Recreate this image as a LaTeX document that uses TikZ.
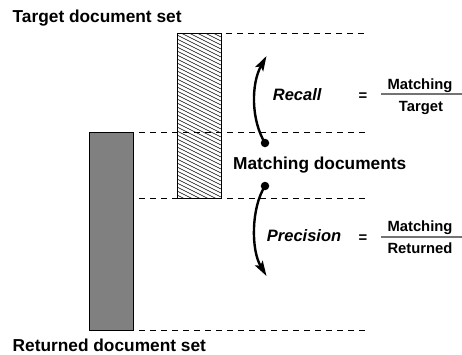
\documentclass[tikz,border=0pt]{standalone}
\usepackage{fontspec}
\setmainfont{Liberation Sans}
\usetikzlibrary{arrows.meta}
\begin{document}
\begin{tikzpicture}[x=1pt,y=-1pt,
  title/.style={font=\fontsize{17.3}{20}\selectfont\bfseries, anchor=base west, inner sep=0},
  measure/.style={font=\fontsize{16.5}{20}\selectfont\bfseries\itshape, anchor=base west, inner sep=0},
  fractxt/.style={font=\fontsize{14.8}{17}\selectfont\bfseries, anchor=base, inner sep=0},
  eqsign/.style={font=\fontsize{14.8}{17}\selectfont\bfseries, inner sep=0},
  guide/.style={line width=0.9pt, dash pattern=on 6pt off 5pt},
  setbox/.style={draw, line width=1pt, anchor=north west, inner sep=0},
  curvedarrow/.style={line width=2.4pt, -{Stealth[length=15pt,width=9pt,inset=3pt]}},
  dotmark/.style={circle, fill, inner sep=0, minimum size=8.5pt},
  fracline/.style={line width=1.6pt, draw=black!55}
]
\useasboundingbox (0,0) rectangle (462,354);

% titles
\node[title] (ttl) at (12.5,22.7) {Target document set};
\node[title] (rtl) at (12.5,351) {Returned document set};

% returned set
\node[setbox, fill=black!50, minimum width=44pt, minimum height=198pt] (ret) at (89,132) {};
% target set (hatched)
\begin{scope}
  \clip (177,33) rectangle (221,198);
  \foreach \k in {0,...,48} {
    \draw[line width=0.5pt] (177,{33-22+4*\k}) -- ++(44,22);
  }
\end{scope}
\node[setbox, minimum width=44pt, minimum height=165pt] (tgt) at (177,33) {};

% guide lines
\coordinate (g1a) at (226,33);  \coordinate (g1b) at (366,33);
\coordinate (g2a) at (139,132); \coordinate (g2b) at (366,132);
\coordinate (g3a) at (139,198); \coordinate (g3b) at (366,198);
\coordinate (g4a) at (139,330); \coordinate (g4b) at (366,330);
\draw[guide] (g1a) -- (g1b);
\draw[guide] (g2a) -- (g2b);
\draw[guide] (g3a) -- (g3b);
\draw[guide] (g4a) -- (g4b);

% matching label
\node[title] (match) at (233,169.3) {Matching documents};

% arrows
\node[dotmark] (rdot) at (265,143) {};
\coordinate (rtip) at (266.5,56);
\draw[curvedarrow] (rdot.center) .. controls (251,120) and (251,84) .. (rtip);
\node[dotmark] (pdot) at (265,186) {};
\coordinate (ptip) at (266.5,276);
\draw[curvedarrow] (pdot.center) .. controls (251,208) and (251,250) .. (ptip);

% recall
\node[measure] (rec) at (272.7,100.7) {Recall};
\node[eqsign] (req) at (363,97) {=};
\coordinate (rfl) at (381,93.7); \coordinate (rfr) at (462,93.7);
\draw[fracline] (rfl) -- (rfr);
\node[fractxt] (rnum) at (420,89.3) {Matching};
\node[fractxt] (rden) at (421,111.7) {Target};

% precision
\node[measure] (pre) at (266.7,241.7) {Precision};
\node[eqsign] (peq) at (363,238.5) {=};
\coordinate (pfl) at (381,236.7); \coordinate (pfr) at (462,236.7);
\draw[fracline] (pfl) -- (pfr);
\node[fractxt] (pnum) at (420,231) {Matching};
\node[fractxt] (pden) at (420,253.3) {Returned};
\end{tikzpicture}
\end{document}
